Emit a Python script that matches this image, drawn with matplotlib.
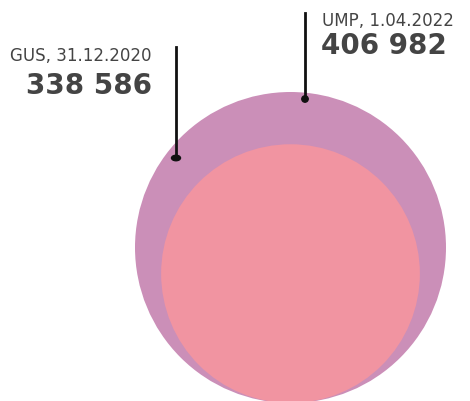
import matplotlib.pyplot as plt
from matplotlib.patches import Circle, Ellipse

# population figures shown by the two circles
sources = ["UMP, 1.04.2022", "GUS, 31.12.2020"]
values = [406982, 338586]
value_labels = ["406 982", "338 586"]
colors = ["#CB8FB8", "#F194A1"]

text_color = "#444444"
plt.rcParams['font.family'] = ['DejaVu Sans']

fig = plt.figure(figsize=(4.7, 4.01), dpi=100)
ax = fig.add_axes([0, 0, 1, 1])
ax.set_xlim(0, 470)
ax.set_ylim(401, 0)
ax.set_aspect('equal')
ax.axis('off')

# radius proportional to value, circles sit on a common base line
r_max = 155.5
cx, base = 290.5, 403
radii = [v / max(values) * r_max for v in values]
for r, c in zip(radii, colors):
    ax.add_patch(Circle((cx, base - r), r, color=c, lw=0))

# leader lines with dots
ax.plot([305, 305], [13, 99], color="#111111", lw=2)
ax.add_patch(Circle((305, 99), 3.2, color="#111111"))
ax.plot([176, 176], [47, 158], color="#111111", lw=2)
ax.add_patch(Ellipse((176, 158), 9, 5.5, color="#111111"))

# labels
ax.text(322, 21, sources[0], fontsize=12, color=text_color, ha='left', va='center')
ax.text(321, 46, value_labels[0], fontsize=20, fontweight='bold', color=text_color,
        ha='left', va='center')
ax.text(152, 56, sources[1], fontsize=12, color=text_color, ha='right', va='center')
ax.text(152, 86, value_labels[1], fontsize=20, fontweight='bold', color=text_color,
        ha='right', va='center')

fig.savefig("out.png", dpi=100)
